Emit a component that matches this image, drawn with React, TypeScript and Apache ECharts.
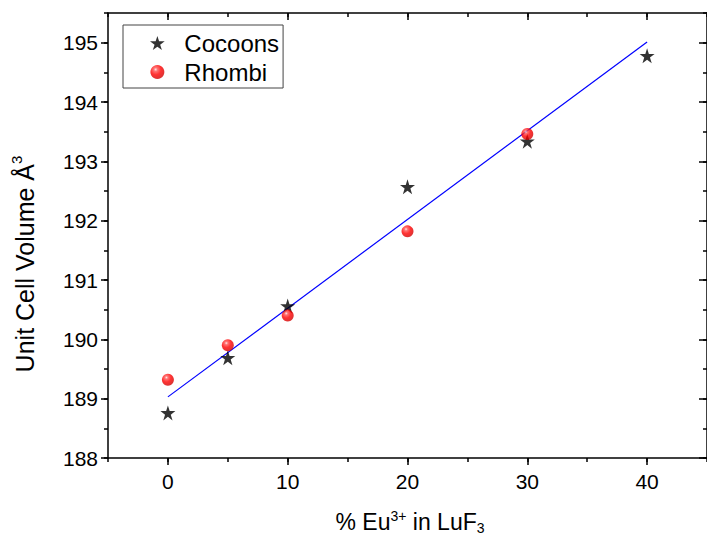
import React, { useEffect, useRef } from "react";
import * as echarts from "echarts";

const cocoonX = [0, 5, 10, 20, 30, 40];
const cocoonY = [188.76, 189.69, 190.56, 192.57, 193.34, 194.78];
const rhombiX = [0, 5, 10, 20, 30];
const rhombiY = [189.32, 189.9, 190.4, 191.82, 193.46];
const fitX = [0, 40];
const fitY = [189.03, 195.01];
const xMajor = [0, 10, 20, 30, 40];
const yMajor = [188, 189, 190, 191, 192, 193, 194, 195];

const FONT = "Liberation Sans, Arial, sans-serif";
const STAR =
  "path://M50,0 L61.2,34.5 L97.6,34.5 L68.2,55.9 L79.4,90.5 L50,69.1 L20.6,90.5 L31.8,55.9 L2.4,34.5 L38.8,34.5 Z";

const ball = {
  type: "radial",
  x: 0.38,
  y: 0.32,
  r: 0.75,
  colorStops: [
    { offset: 0, color: "#ffe0e0" },
    { offset: 0.18, color: "#ff5050" },
    { offset: 0.5, color: "#ff0000" },
    { offset: 1, color: "#c80000" },
  ],
};

export default function App() {
  const ref = useRef<HTMLDivElement>(null);
  useEffect(() => {
    if (!ref.current) return;
    const chart = echarts.init(ref.current, undefined, { renderer: "svg" });
    const line = { onZero: false, lineStyle: { color: "#000", width: 1.5 } };
    const noLine = { show: false, onZero: false };
    const tick = { color: "#000", width: 1.5 };
    const baseX = { type: "value", min: -5, max: 45, interval: 5, splitLine: { show: false } };
    const baseY = { type: "value", min: 188, max: 195.5, interval: 0.5, splitLine: { show: false } };
    chart.setOption({
      animation: false,
      grid: { left: 108, top: 13, width: 605, height: 445 },
      legend: {
        orient: "vertical",
        left: 123,
        top: 25,
        padding: [6, 4, 4, 27],
        itemGap: 5,
        itemWidth: 44,
        itemHeight: 14,
        borderColor: "#444",
        borderWidth: 1,
        textStyle: { fontSize: 24, fontFamily: FONT, color: "#000" },
        data: ["Cocoons", "Rhombi"],
      },
      xAxis: [
        {
          ...baseX,
          position: "bottom",
          axisLine: line,
          axisTick: { length: 4, lineStyle: tick },
          axisLabel: { customValues: xMajor, fontSize: 21, fontFamily: FONT, color: "#000", margin: 13 },
        },
        {
          ...baseX,
          position: "bottom",
          axisLine: noLine,
          axisTick: { customValues: xMajor, length: 7, lineStyle: tick },
          axisLabel: { show: false },
        },
        {
          ...baseX,
          position: "top",
          axisLine: line,
          axisTick: { inside: true, length: 4, lineStyle: tick },
          axisLabel: { show: false },
        },
        {
          ...baseX,
          position: "top",
          axisLine: noLine,
          axisTick: { inside: true, customValues: xMajor, length: 7, lineStyle: tick },
          axisLabel: { show: false },
        },
      ],
      yAxis: [
        {
          ...baseY,
          position: "left",
          axisLine: line,
          axisTick: { length: 4, lineStyle: tick },
          axisLabel: { customValues: yMajor, fontSize: 21, fontFamily: FONT, color: "#000", margin: 10 },
        },
        {
          ...baseY,
          position: "left",
          axisLine: noLine,
          axisTick: { customValues: yMajor, length: 7, lineStyle: tick },
          axisLabel: { show: false },
        },
        {
          ...baseY,
          position: "right",
          axisLine: line,
          axisTick: { inside: true, length: 4, lineStyle: tick },
          axisLabel: { show: false },
        },
        {
          ...baseY,
          position: "right",
          axisLine: noLine,
          axisTick: { inside: true, customValues: yMajor, length: 8, lineStyle: tick },
          axisLabel: { show: false },
        },
      ],
      graphic: [
        {
          type: "text",
          x: 25,
          y: 264,
          rotation: Math.PI / 2,
          style: {
            text: "Unit Cell Volume Å{sup|3}",
            fontSize: 25,
            fontFamily: FONT,
            fill: "#000",
            align: "center",
            verticalAlign: "middle",
            rich: { sup: { fontSize: 15, fontFamily: FONT, fill: "#000", padding: [0, 0, 18, 0] } },
          },
        },
        {
          type: "text",
          x: 410,
          y: 522,
          style: {
            text: "% Eu{sup|3+} in LuF{sub|3}",
            fontSize: 23,
            fontFamily: FONT,
            fill: "#000",
            align: "center",
            verticalAlign: "middle",
            rich: {
              sup: { fontSize: 14, fontFamily: FONT, fill: "#000", padding: [0, 0, 12, 0] },
              sub: { fontSize: 14, fontFamily: FONT, fill: "#000", padding: [12, 0, 0, 0] },
            },
          },
        },
      ],
      series: [
        {
          name: "Fit",
          type: "line",
          data: fitX.map((x, i) => [x, fitY[i]]),
          showSymbol: false,
          symbol: "none",
          lineStyle: { color: "#0000ff", width: 1.2 },
          z: 1,
        },
        {
          name: "Cocoons",
          type: "scatter",
          symbol: STAR,
          symbolSize: 15,
          data: cocoonX.map((x, i) => [x, cocoonY[i]]),
          itemStyle: { color: "#000" },
          z: 2,
        },
        {
          name: "Rhombi",
          type: "scatter",
          symbol: "circle",
          symbolSize: 12,
          data: rhombiX.map((x, i) => [x, rhombiY[i]]),
          itemStyle: { color: ball as any },
          z: 3,
        },
      ],
    });
    return () => chart.dispose();
  }, []);
  return (
    <div
      ref={ref}
      style={{ position: "fixed", left: 0, top: 0, width: 707, height: 548, background: "#fff" }}
    />
  );
}
